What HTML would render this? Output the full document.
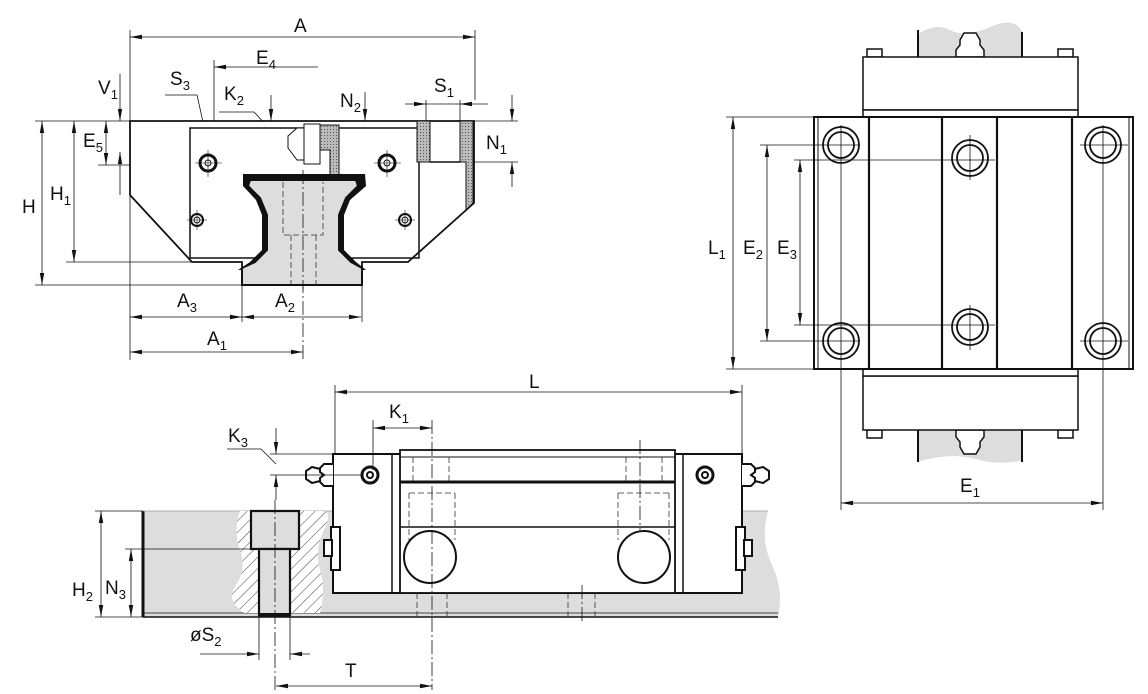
<!DOCTYPE html>
<html><head><meta charset="utf-8"><style>
html,body{margin:0;padding:0;background:#fff;}
svg{display:block;}
text{font-family:"Liberation Sans",sans-serif;font-size:19px;fill:#111;}
.s{font-size:13px;}
</style></head><body>
<svg width="1148" height="694" viewBox="0 0 1148 694" xmlns="http://www.w3.org/2000/svg">
<defs>
<marker id="a" viewBox="0 0 12 6" refX="12" refY="3" markerWidth="12" markerHeight="6" orient="auto-start-reverse" markerUnits="userSpaceOnUse"><path d="M0,0.8 L12,3 L0,5.2z" fill="#111"/></marker>
<pattern id="h" width="8" height="8" patternUnits="userSpaceOnUse" patternTransform="rotate(45)"><rect width="8" height="8" fill="#fff"/><line x1="0" y1="0" x2="0" y2="8" stroke="#444" stroke-width="1"/></pattern>
<pattern id="g" width="3" height="3" patternUnits="userSpaceOnUse"><rect width="3" height="3" fill="#bbb"/><rect width="1" height="1" fill="#555"/></pattern>
</defs>
<g fill="none" stroke="#111" stroke-width="0.8">
<line x1="130" y1="30" x2="130" y2="360"/><line x1="475" y1="30" x2="475" y2="100"/>
<line x1="214" y1="60" x2="214" y2="150"/>
<line x1="35" y1="121" x2="130" y2="121"/><line x1="66" y1="262" x2="192" y2="262"/><line x1="35" y1="285" x2="242" y2="285"/>
<line x1="98" y1="165" x2="230" y2="165"/>
<line x1="242" y1="285" x2="242" y2="322"/><line x1="362" y1="285" x2="362" y2="322"/>
<line x1="303" y1="125" x2="303" y2="360" stroke-dasharray="14,3,2,3"/>
<line x1="130" y1="37" x2="475" y2="37" marker-start="url(#a)" marker-end="url(#a)"/>
<line x1="318" y1="67" x2="214" y2="67" marker-end="url(#a)"/>
<line x1="42" y1="121" x2="42" y2="285" marker-start="url(#a)" marker-end="url(#a)"/>
<line x1="74" y1="121" x2="74" y2="262" marker-start="url(#a)" marker-end="url(#a)"/>
<line x1="106" y1="121" x2="106" y2="165" marker-start="url(#a)" marker-end="url(#a)"/>
<line x1="120" y1="74" x2="120" y2="121" marker-end="url(#a)"/><line x1="120" y1="195" x2="120" y2="152" marker-end="url(#a)"/>
<line x1="271" y1="95" x2="271" y2="121" marker-end="url(#a)"/><line x1="271" y1="172" x2="271" y2="132" marker-end="url(#a)"/>
<line x1="365" y1="92" x2="365" y2="121" marker-end="url(#a)"/><line x1="365" y1="188" x2="365" y2="158" marker-end="url(#a)"/>
<line x1="300" y1="158" x2="378" y2="158"/>
<line x1="405" y1="104" x2="426" y2="104" marker-end="url(#a)"/><line x1="488" y1="104" x2="460" y2="104" marker-end="url(#a)"/>
<line x1="426" y1="104" x2="460" y2="104"/><line x1="426" y1="100" x2="426" y2="121"/><line x1="460" y1="100" x2="460" y2="121"/>
<line x1="512" y1="95" x2="512" y2="121" marker-end="url(#a)"/><line x1="512" y1="187" x2="512" y2="162" marker-end="url(#a)"/>
<line x1="460" y1="121" x2="518" y2="121"/><line x1="460" y1="162" x2="518" y2="162"/>
<line x1="130" y1="317" x2="242" y2="317" marker-start="url(#a)" marker-end="url(#a)"/>
<line x1="242" y1="317" x2="361" y2="317" marker-start="url(#a)" marker-end="url(#a)"/>
<line x1="130" y1="352" x2="303" y2="352" marker-start="url(#a)" marker-end="url(#a)"/>
<polyline points="165,95 197,95 211,158"/>
<polyline points="219,112 254,112 269,128"/>
</g>
<path d="M130,121 L474,121 L474,203 L408,262 L362,262 L362,285 L242,285 L242,262 L192,262 L130,195 Z" fill="#fff" stroke="#111" stroke-width="1.8"/>
<path d="M190,128 L419,128 L419,258 L190,258 Z" fill="none" stroke="#111" stroke-width="1.5"/>
<rect x="417" y="121" width="13" height="41" fill="url(#g)" stroke="#111"/>
<path d="M460,121 L473,121 L473,203 L466,210 L466,162 L460,162Z" fill="url(#g)" stroke="#111"/>
<line x1="430" y1="162" x2="460" y2="162" stroke="#111" stroke-width="1.5"/>
<rect x="304" y="124" width="16" height="40" fill="#fff" stroke="#111"/>
<path d="M320,125 L339,125 L339,180 L330,180 L330,150 L320,150Z" fill="url(#g)" stroke="#111"/>
<path d="M288,136 L297,128 L304,128 L304,160 L297,160 L288,148Z" fill="#fff" stroke="#111"/>
<!-- seal band -->
<path d="M243,174 L365,174 L366,186 L350,200 L344,215 L344,250 L356,262 L366,270 L238,270 L250,262 L262,250 L262,215 L256,200 L243,186Z" fill="#111"/>
<path d="M250,180 L356,180 L358,186 L346,198 L339,215 L339,250 L351,262 L362,268 L362,285 L242,285 L242,268 L255,262 L267,250 L267,215 L260,198 L248,186Z" fill="#ddd" stroke="#111" stroke-width="2"/>
<g stroke="#333" stroke-width="0.8" stroke-dasharray="6,3" fill="none">
<path d="M283,182 V235 H323 V182"/><line x1="291" y1="235" x2="291" y2="285"/><line x1="316" y1="235" x2="316" y2="285"/>
</g>
<line x1="303" y1="170" x2="303" y2="290" stroke="#111" stroke-width="0.8" stroke-dasharray="14,3,2,3"/>
<g stroke="#111" fill="#fff">
<circle cx="208" cy="163" r="8" stroke-width="3"/><circle cx="208" cy="163" r="3"/>
<circle cx="387" cy="163" r="8" stroke-width="3"/><circle cx="387" cy="163" r="3"/>
<circle cx="197" cy="220" r="6" stroke-width="2"/><circle cx="197" cy="220" r="3"/>
<circle cx="405" cy="220" r="6" stroke-width="2"/><circle cx="405" cy="220" r="3"/>
</g>
<g stroke="#111" stroke-width="0.6"><line x1="195" y1="163" x2="222" y2="163"/><line x1="208" y1="150" x2="208" y2="177"/><line x1="374" y1="163" x2="401" y2="163"/><line x1="387" y1="150" x2="387" y2="177"/><line x1="187" y1="220" x2="207" y2="220"/><line x1="197" y1="210" x2="197" y2="230"/><line x1="395" y1="220" x2="415" y2="220"/><line x1="405" y1="210" x2="405" y2="230"/></g>
<text x="294" y="32">A</text>
<text x="256" y="64">E<tspan class="s" dy="5">4</tspan></text>
<text x="170" y="85">S<tspan class="s" dy="5">3</tspan></text>
<text x="98" y="94">V<tspan class="s" dy="5">1</tspan></text>
<text x="224" y="100">K<tspan class="s" dy="5">2</tspan></text>
<text x="340" y="107">N<tspan class="s" dy="5">2</tspan></text>
<text x="434" y="92">S<tspan class="s" dy="5">1</tspan></text>
<text x="486" y="149">N<tspan class="s" dy="5">1</tspan></text>
<text x="83" y="147">E<tspan class="s" dy="5">5</tspan></text>
<text x="50" y="200">H<tspan class="s" dy="5">1</tspan></text>
<text x="22" y="213">H</text>
<text x="177" y="307">A<tspan class="s" dy="5">3</tspan></text>
<text x="275" y="307">A<tspan class="s" dy="5">2</tspan></text>
<text x="207" y="345">A<tspan class="s" dy="5">1</tspan></text>

<path d="M917,35 Q935,22 950,30 T990,27 T1023,33 L1023,57 L917,57Z" fill="#ddd"/>
<path d="M917,430 L1023,430 L1023,460 Q1000,466 975,459 T917,462Z" fill="#ddd"/>
<g stroke="#111" stroke-width="2" fill="none">
<line x1="918" y1="30" x2="918" y2="57"/><line x1="1022" y1="32" x2="1022" y2="57"/>
<line x1="918" y1="430" x2="918" y2="462"/><line x1="1022" y1="430" x2="1022" y2="462"/>
</g>
<g stroke="#111" stroke-width="1.5" fill="#fff">
<rect x="867" y="49" width="15" height="8"/><rect x="1058" y="49" width="15" height="8"/>
<rect x="867" y="430" width="15" height="8"/><rect x="1058" y="430" width="15" height="8"/>
<path d="M956,57 L956,50 L960,45 L960,40 L964,33 L976,33 L980,40 L980,45 L984,50 L984,57Z"/>
<path d="M956,430 L956,437 L960,442 L960,447 L964,454 L976,454 L980,447 L980,442 L984,437 L984,430Z"/>
<rect x="863" y="57" width="215" height="53"/>
<rect x="863" y="376" width="215" height="54"/>
<rect x="863" y="110" width="215" height="7"/>
<rect x="863" y="369" width="215" height="7"/>
<rect x="814" y="117" width="319" height="252" stroke-width="2"/>
</g>
<g stroke="#111" stroke-width="2.2">
<line x1="869" y1="117" x2="869" y2="369"/><line x1="942" y1="117" x2="942" y2="369"/>
<line x1="997" y1="117" x2="997" y2="369"/><line x1="1072" y1="117" x2="1072" y2="369"/>
<line x1="818" y1="117" x2="818" y2="369" stroke-width="1"/><line x1="1129" y1="117" x2="1129" y2="369" stroke-width="1"/>
</g>
<g stroke="#111" stroke-width="0.8" fill="none">
<line x1="726" y1="117" x2="814" y2="117"/><line x1="726" y1="369" x2="814" y2="369"/>
<line x1="760" y1="145" x2="860" y2="145"/><line x1="760" y1="341" x2="860" y2="341"/>
<line x1="794" y1="160" x2="995" y2="160"/><line x1="794" y1="325" x2="995" y2="325"/>
<line x1="733" y1="117" x2="733" y2="369" marker-start="url(#a)" marker-end="url(#a)"/>
<line x1="767" y1="145" x2="767" y2="341" marker-start="url(#a)" marker-end="url(#a)"/>
<line x1="800" y1="160" x2="800" y2="325" marker-start="url(#a)" marker-end="url(#a)"/>
<line x1="841" y1="125" x2="841" y2="510"/><line x1="1103" y1="125" x2="1103" y2="510"/>
<line x1="841" y1="503" x2="1103" y2="503" marker-start="url(#a)" marker-end="url(#a)"/>
<line x1="970" y1="135" x2="970" y2="180"/><line x1="970" y1="305" x2="970" y2="350"/>
<line x1="1080" y1="145" x2="1128" y2="145"/><line x1="1080" y1="341" x2="1128" y2="341"/>
</g>
<g stroke="#111" stroke-width="1.8" fill="none">
<circle cx="841" cy="145" r="18"/><circle cx="841" cy="145" r="13"/>
<circle cx="841" cy="341" r="18"/><circle cx="841" cy="341" r="13"/>
<circle cx="1103" cy="145" r="18"/><circle cx="1103" cy="145" r="13"/>
<circle cx="1103" cy="341" r="18"/><circle cx="1103" cy="341" r="13"/>
<circle cx="970" cy="158" r="18"/><circle cx="970" cy="158" r="13"/>
<circle cx="970" cy="327" r="18"/><circle cx="970" cy="327" r="13"/>
</g>
<text x="708" y="254">L<tspan class="s" dy="5">1</tspan></text>
<text x="743" y="254">E<tspan class="s" dy="5">2</tspan></text>
<text x="777" y="254">E<tspan class="s" dy="5">3</tspan></text>
<text x="960" y="492">E<tspan class="s" dy="5">1</tspan></text>

<path d="M143,511 L768,511 Q760,540 772,565 T778,617 L143,617Z" fill="#ddd"/>
<line x1="143" y1="511" x2="143" y2="617" stroke="#111" stroke-width="3"/>
<line x1="143" y1="617" x2="778" y2="617" stroke="#111" stroke-width="1.5"/>
<line x1="143" y1="613" x2="778" y2="613" stroke="#111" stroke-width="0.8"/>
<line x1="143" y1="511" x2="768" y2="511" stroke="#999" stroke-width="0.8"/>
<path d="M240,511 Q233,530 240,550 T236,585 T244,613 L320,613 Q326,590 320,570 T324,530 T320,511Z" fill="url(#h)"/>
<rect x="251" y="511" width="48" height="38" fill="#ddd" stroke="#111" stroke-width="2.2"/>
<rect x="259" y="549" width="31" height="66" fill="#ddd" stroke="#111" stroke-width="2.2"/>
<line x1="259" y1="615" x2="290" y2="615" stroke="#111" stroke-width="4"/>
<rect x="333" y="454" width="409" height="139" fill="#fff" stroke="#111" stroke-width="2"/>
<rect x="400" y="450" width="275" height="143" fill="#fff" stroke="#111" stroke-width="1.8"/>
<line x1="392" y1="454" x2="392" y2="593" stroke="#111" stroke-width="1.5"/>
<line x1="683" y1="454" x2="683" y2="593" stroke="#111" stroke-width="1.5"/>
<line x1="400" y1="457" x2="675" y2="457" stroke="#111" stroke-width="1"/>
<line x1="400" y1="482" x2="675" y2="482" stroke="#111" stroke-width="3"/>
<line x1="400" y1="527" x2="675" y2="527" stroke="#111" stroke-width="1.5"/>
<g stroke="#333" stroke-width="0.8" stroke-dasharray="6,3" fill="none">
<path d="M413,457 V482 M449,457 V482 M409,493 V540 M455,493 V540 M409,493 H455"/>
<path d="M626,457 V482 M662,457 V482 M618,493 V540 M669,493 V540 M618,493 H669"/>
<path d="M417,593 V617 M447,593 V617 M568,593 V617 M595,593 V617"/>
</g>
<g stroke="#111" stroke-width="2" fill="#fff">
<circle cx="430" cy="557" r="26"/><circle cx="644" cy="557" r="26"/>
<rect x="331" y="527" width="9" height="43"/><rect x="324" y="540" width="8" height="16"/>
<rect x="736" y="527" width="9" height="43"/><rect x="744" y="540" width="8" height="16"/>
<path d="M333,464 L324,464 L320,468 L320,472 L324,475 L320,478 L320,482 L324,486 L333,486 M320,469 L312,467 L306,471 L306,479 L312,483 L320,481"/>
<path d="M742,464 L751,464 L755,468 L755,472 L751,475 L755,478 L755,482 L751,486 L742,486 M755,469 L763,467 L769,471 L769,479 L763,483 L755,481"/>
<circle cx="370" cy="475" r="8" stroke-width="3"/><circle cx="370" cy="475" r="3"/>
<circle cx="705" cy="475" r="8" stroke-width="3"/><circle cx="705" cy="475" r="3"/>
</g>
<g stroke="#111" stroke-width="0.8" fill="none">
<line x1="275" y1="500" x2="275" y2="690" stroke-dasharray="14,3,2,3"/>
<line x1="432" y1="420" x2="432" y2="690" stroke-dasharray="14,3,2,3"/>
<line x1="640" y1="440" x2="640" y2="530" stroke-dasharray="14,3,2,3"/>
<line x1="582" y1="585" x2="582" y2="622" stroke-dasharray="14,3,2,3"/>
<line x1="335" y1="385" x2="335" y2="454"/><line x1="742" y1="385" x2="742" y2="454"/>
<line x1="335" y1="392" x2="742" y2="392" marker-start="url(#a)" marker-end="url(#a)"/>
<line x1="373" y1="420" x2="373" y2="470"/>
<line x1="373" y1="428" x2="432" y2="428" marker-start="url(#a)" marker-end="url(#a)"/>
<line x1="276" y1="428" x2="276" y2="454" marker-end="url(#a)"/>
<line x1="276" y1="500" x2="276" y2="475" marker-end="url(#a)"/>
<line x1="270" y1="454" x2="335" y2="454"/><line x1="270" y1="475" x2="362" y2="475"/>
<polyline points="227,449 261,449 276,464"/>
<line x1="95" y1="511" x2="143" y2="511"/><line x1="95" y1="617" x2="143" y2="617"/><line x1="125" y1="549" x2="259" y2="549"/>
<line x1="101" y1="511" x2="101" y2="617" marker-start="url(#a)" marker-end="url(#a)"/>
<line x1="131" y1="549" x2="131" y2="617" marker-start="url(#a)" marker-end="url(#a)"/>
<line x1="259" y1="617" x2="259" y2="660"/><line x1="290" y1="617" x2="290" y2="660"/>
<line x1="200" y1="654" x2="259" y2="654" marker-end="url(#a)"/>
<line x1="310" y1="654" x2="290" y2="654" marker-end="url(#a)"/>
<line x1="276" y1="686" x2="432" y2="686" marker-start="url(#a)" marker-end="url(#a)"/>
</g>
<text x="529" y="388">L</text>
<text x="389" y="418">K<tspan class="s" dy="5">1</tspan></text>
<text x="228" y="442">K<tspan class="s" dy="5">3</tspan></text>
<text x="72" y="596">H<tspan class="s" dy="5">2</tspan></text>
<text x="105" y="594">N<tspan class="s" dy="5">3</tspan></text>
<text x="190" y="641">øS<tspan class="s" dy="5">2</tspan></text>
<text x="345" y="677">T</text>
</svg>
</body></html>
